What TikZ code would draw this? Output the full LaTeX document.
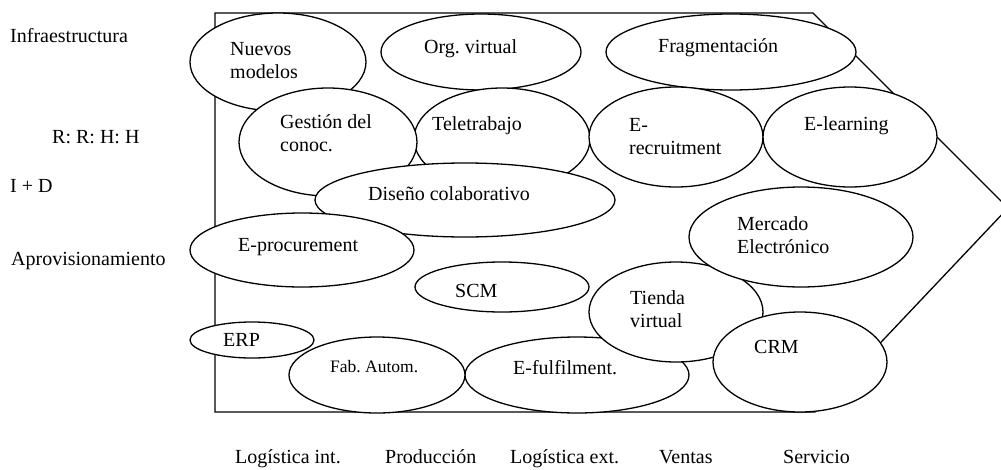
\documentclass[tikz,border=0pt]{standalone}
\usepackage{fontspec}
\setmainfont{Liberation Serif}
\usetikzlibrary{shapes.geometric}
\tikzset{
  ell/.style={draw, ellipse, fill=white, line width=1.3pt, inner sep=0pt},
  lbl/.style={anchor=base west, inner sep=0pt, font=\fontsize{20}{23}\selectfont},
  small/.style={anchor=base west, inner sep=0pt, font=\fontsize{17.5}{21}\selectfont},
}
\newcommand{\twol}[2]{\begin{tabular}[t]{@{}l@{}}#1\\#2\end{tabular}}
\begin{document}
\begin{tikzpicture}[x=1pt,y=-1pt]
\useasboundingbox (0,0) rectangle (1001,469);
% outer value-chain shape
\coordinate (p1) at (215,13);
\coordinate (p2) at (813,13);
\coordinate (p3) at (1008,208);
\coordinate (p4) at (815,412);
\coordinate (p5) at (215,412);
\draw[line width=1.3pt, line join=miter] (p1) -- (p2) -- (p3) -- (p4) -- (p5) -- cycle;

% left labels
\node[lbl] (infra) at (10,42) {Infraestructura};
\node[lbl] (rrhh) at (52,143) {R: R: H: H};
\node[lbl] (id) at (10,192) {I + D};
\node[lbl] (aprov) at (11,265) {Aprovisionamiento};

% bottom labels
\node[lbl] (logint) at (235,463) {Logística int.};
\node[lbl] (prod) at (385,463) {Producción};
\node[lbl] (logext) at (510,463) {Logística ext.};
\node[lbl] (ventas) at (659,463) {Ventas};
\node[lbl] (serv) at (783,463) {Servicio};

% ellipses, back to front
\node[ell, minimum width=176pt, minimum height=98pt] (nuevos) at (278,62) {};
\node[lbl] (tnuevos) at (230,55) {\twol{Nuevos}{modelos}};

\node[ell, minimum width=200pt, minimum height=76pt] (org) at (481,52) {};
\node[lbl] (torg) at (424,53) {Org.\ virtual};

\node[ell, minimum width=250pt, minimum height=76pt] (frag) at (731,52) {};
\node[lbl] (tfrag) at (658,52) {Fragmentación};

\node[ell, minimum width=176pt, minimum height=102pt] (tele) at (502,139) {};
\node[lbl] (ttele) at (432,130) {Teletrabajo};

\node[ell, minimum width=178pt, minimum height=108pt] (gest) at (328,142) {};
\node[lbl] (tgest) at (280,128) {\twol{Gestión del}{conoc.}};

\node[ell, minimum width=174pt, minimum height=100pt] (erec) at (676,137) {};
\node[lbl] (terec) at (629,131) {\twol{E-}{recruitment}};

\node[ell, minimum width=174pt, minimum height=100pt] (elearn) at (850,137) {};
\node[lbl] (telearn) at (804,130) {E-learning};

\node[ell, minimum width=300pt, minimum height=74pt] (diseno) at (465,200) {};
\node[lbl] (tdiseno) at (368,200) {Diseño colaborativo};

\node[ell, minimum width=224pt, minimum height=74pt] (eproc) at (302,250) {};
\node[lbl] (teproc) at (238,251) {E-procurement};

\node[ell, minimum width=224pt, minimum height=76pt] (eful) at (577,375) {};
\node[lbl] (teful) at (513,374) {E-fulfilment.};

\node[ell, minimum width=174pt, minimum height=100pt] (tienda) at (676,312) {};
\node[lbl] (ttienda) at (630,304) {\twol{Tienda}{virtual}};

\node[ell, minimum width=224pt, minimum height=100pt] (mercado) at (801,237) {};
\node[lbl] (tmercado) at (737,230) {\twol{Mercado}{Electrónico}};

\node[ell, minimum width=174pt, minimum height=100pt] (crm) at (800,362) {};
\node[lbl] (tcrm) at (754,353) {CRM};

\node[ell, minimum width=174pt, minimum height=50pt] (scm) at (502,287) {};
\node[lbl] (tscm) at (455,297) {SCM};

\node[ell, minimum width=124pt, minimum height=36pt] (erp) at (252,340) {};
\node[lbl] (terp) at (223,346) {ERP};

\node[ell, minimum width=176pt, minimum height=76pt] (fab) at (377,375) {};
\node[small] (tfab) at (330,372) {Fab.\ Autom.};
\end{tikzpicture}
\end{document}
